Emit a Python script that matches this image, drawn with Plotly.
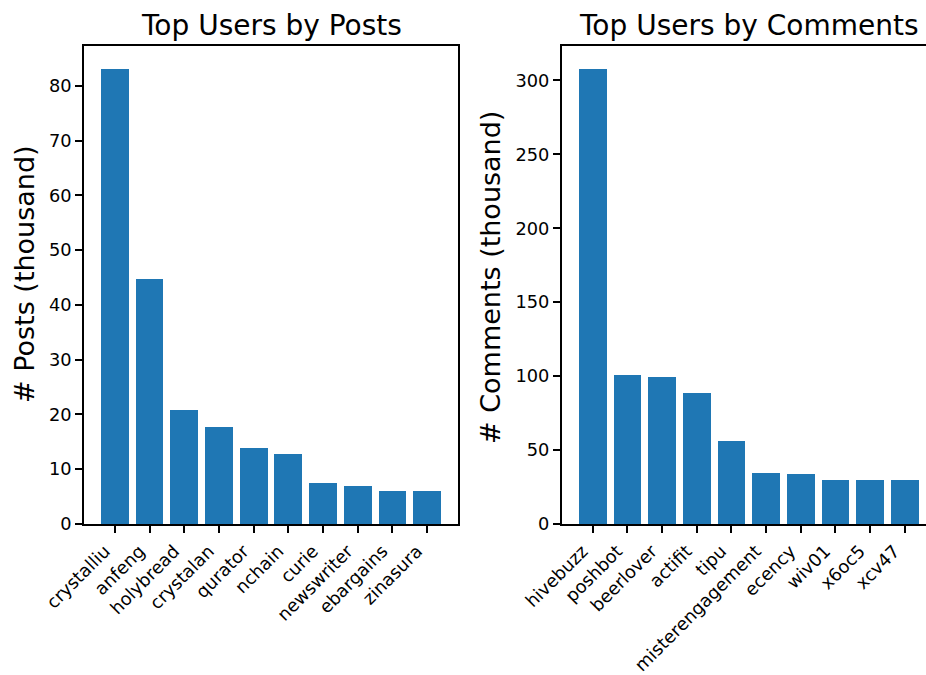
import plotly.graph_objects as go

# Top posters (thousands of posts)
post_users = ["crystalliu", "anfeng", "holybread", "crystalan", "qurator",
              "nchain", "curie", "newswriter", "ebargains", "zinasura"]
post_counts = [83.1, 44.75, 20.8, 17.7, 13.9, 12.8, 7.5, 6.94, 6.0, 6.0]

# Top commenters (thousands of comments)
comment_users = ["hivebuzz", "poshbot", "beerlover", "actifit", "tipu",
                 "misterengagement", "ecency", "wiv01", "x6oc5", "xcv47"]
comment_counts = [307.9, 100.8, 99.5, 88.6, 56.2, 34.5, 33.8, 29.8, 29.8, 29.7]

W, H = 926, 675
BLUE = "#1f77b4"
FONT = "DejaVu Sans"

def px_x(v):
    return v / W

def px_y(v):
    return 1 - v / H

top_px, bottom_px = 46, 524
left_dom = [px_x(84), px_x(458)]
right_dom = [px_x(561.7), 1.0]
y_dom = [px_y(bottom_px), px_y(top_px)]

fig = go.Figure()
fig.add_trace(go.Bar(x=list(range(len(post_users))), y=post_counts, width=0.8,
                     marker=dict(color=BLUE, line=dict(width=0)),
                     xaxis="x", yaxis="y", showlegend=False))
fig.add_trace(go.Bar(x=list(range(len(comment_users))), y=comment_counts, width=0.8,
                     marker=dict(color=BLUE, line=dict(width=0)),
                     xaxis="x2", yaxis="y2", showlegend=False))

tick_font = dict(family=FONT, size=17.8, color="black")
common_axis = dict(showline=True, linecolor="black", linewidth=1.6,
                   ticks="outside", ticklen=7, tickwidth=1.6, tickcolor="black",
                   showgrid=False, zeroline=False, tickfont=tick_font,
                   automargin=False)
# rotated category labels: right end tucked just left of the tick
cat_axis = dict(tickangle=-45, ticklabelshift=-10, ticklabelstandoff=1)

pad = 0.49
fig.update_layout(
    width=W, height=H, margin=dict(l=0, r=0, t=0, b=0, autoexpand=False),
    paper_bgcolor="white", plot_bgcolor="white",
    bargap=0,
    xaxis=dict(domain=left_dom, range=[-0.4 - pad, 9.4 + pad], mirror=True,
               tickmode="array", tickvals=list(range(len(post_users))),
               ticktext=post_users, anchor="y", **cat_axis, **common_axis),
    yaxis=dict(domain=y_dom, range=[0, 83.1 * 1.05], mirror=True,
               tickmode="array", tickvals=list(range(0, 81, 10)),
               anchor="x", **common_axis),
    xaxis2=dict(domain=right_dom, range=[-0.4 - pad, 9.62], mirror=True,
                tickmode="array", tickvals=list(range(len(comment_users))),
                ticktext=comment_users, anchor="y2", **cat_axis, **common_axis),
    yaxis2=dict(domain=y_dom, range=[0, 307.9 * 1.05], mirror=False,
                tickmode="array", tickvals=list(range(0, 301, 50)),
                anchor="x2", **common_axis),
)

title_font = dict(family=FONT, size=28, color="black")
label_font = dict(family=FONT, size=27, color="black")
fig.add_annotation(text="Top Users by Posts", x=px_x(271), y=px_y(44),
                   xref="paper", yref="paper", xanchor="center", yanchor="bottom",
                   showarrow=False, font=title_font)
fig.add_annotation(text="Top Users by Comments", x=px_x(748), y=px_y(44),
                   xref="paper", yref="paper", xanchor="center", yanchor="bottom",
                   showarrow=False, font=title_font)
fig.add_annotation(text="# Posts (thousand)", x=px_x(24), y=px_y(274),
                   xref="paper", yref="paper", xanchor="center", yanchor="middle",
                   textangle=-90, showarrow=False, font=label_font)
fig.add_annotation(text="# Comments (thousand)", x=px_x(490), y=px_y(278),
                   xref="paper", yref="paper", xanchor="center", yanchor="middle",
                   textangle=-90, showarrow=False, font=label_font)

fig.write_html("out.html")
